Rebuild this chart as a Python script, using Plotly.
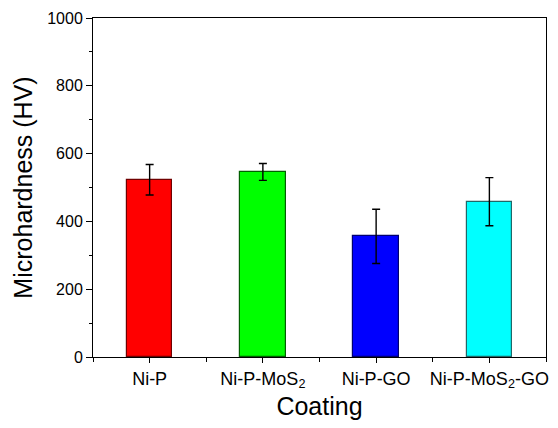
import plotly.graph_objects as go

categories = ["Ni-P", "Ni-P-MoS<sub>2</sub>", "Ni-P-GO", "Ni-P-MoS<sub>2</sub>-GO"]
hardness = [523, 546, 356, 458]
errors = [45, 25, 80, 71]
fill_colors = ["#ff0000", "#00ff00", "#0000ff", "#00ffff"]
edge_colors = ["#700000", "#006000", "#000070", "#206868"]
y_ticks = [0, 200, 400, 600, 800, 1000]

x_pos = list(range(len(categories)))

fig = go.Figure()
fig.add_trace(go.Bar(
    x=x_pos,
    y=hardness,
    width=0.4,
    marker=dict(color=fill_colors, line=dict(color=edge_colors, width=1.2)),
    error_y=dict(type="data", array=errors, visible=True, color="black",
                 thickness=1.4, width=4),
    showlegend=False,
))

font_family = "Liberation Sans, Arial, sans-serif"

fig.update_layout(
    width=558, height=428,
    margin=dict(l=93, r=12, t=18, b=71),
    plot_bgcolor="white", paper_bgcolor="white",
    font=dict(family=font_family, color="black"),
    bargap=0,
)

fig.update_xaxes(
    range=[-0.5, 3.5],
    tickmode="array", tickvals=x_pos, ticktext=categories,
    tickfont=dict(size=18, family=font_family, color="black"),
    ticks="outside", ticklen=5, tickwidth=1, tickcolor="black",
    minor=dict(tickmode="linear", tick0=0.5, dtick=1, ticks="outside",
               ticklen=4, tickwidth=1, tickcolor="black"),
    showline=True, linecolor="black", linewidth=1, mirror=True,
    showgrid=False, zeroline=False,
    title=dict(text="Coating", font=dict(size=25, family=font_family, color="black"), standoff=7),
    automargin=False,
)

fig.update_yaxes(
    range=[0, 1000],
    tickmode="array", tickvals=y_ticks,
    tickfont=dict(size=16, family=font_family, color="black"),
    ticks="outside", ticklen=6, tickwidth=1, tickcolor="black",
    minor=dict(tickmode="linear", tick0=100, dtick=200, ticks="outside",
               ticklen=3, tickwidth=1, tickcolor="black"),
    showline=True, linecolor="black", linewidth=1, mirror=True,
    showgrid=False, zeroline=False,
    title=dict(text="Microhardness (HV)", font=dict(size=25, family=font_family, color="black"), standoff=7),
    automargin=False,
)

fig.write_html(
    "out.html",
    config={"displayModeBar": False},
    post_script="document.body.style.margin='0';document.body.style.overflow='hidden';",
)
